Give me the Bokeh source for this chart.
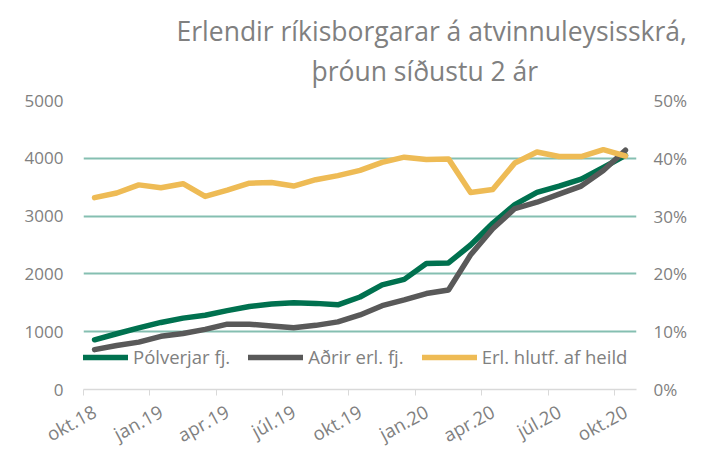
from bokeh.plotting import figure
from bokeh.models import (Range1d, LinearAxis, FixedTicker, NumeralTickFormatter,
                          Legend, LegendItem, Title)
from bokeh.embed import file_html
from bokeh.resources import INLINE

months = ["okt.18", "nóv.18", "des.18", "jan.19", "feb.19", "mar.19", "apr.19", "maí.19",
          "jún.19", "júl.19", "ágú.19", "sep.19", "okt.19", "nóv.19", "des.19", "jan.20",
          "feb.20", "mar.20", "apr.20", "maí.20", "jún.20", "júl.20", "ágú.20", "sep.20", "okt.20"]
polverjar = [860, 965, 1065, 1160, 1235, 1285, 1365, 1435, 1480, 1500, 1490, 1465, 1600,
             1810, 1905, 2180, 2190, 2500, 2875, 3200, 3410, 3520, 3640, 3840, 4050]
adrir = [690, 760, 820, 920, 970, 1040, 1130, 1130, 1100, 1070, 1110, 1170, 1290,
         1450, 1550, 1660, 1720, 2330, 2780, 3130, 3240, 3380, 3520, 3790, 4140]
hlutf = [0.332, 0.340, 0.354, 0.349, 0.356, 0.334, 0.345, 0.357, 0.358, 0.352, 0.363, 0.370,
         0.379, 0.393, 0.402, 0.398, 0.399, 0.341, 0.346, 0.392, 0.411, 0.403, 0.403, 0.415, 0.404]
left_ticks = [0, 1000, 2000, 3000, 4000, 5000]
right_ticks = [0.0, 0.1, 0.2, 0.3, 0.4, 0.5]

title_line1 = "Erlendir ríkisborgarar á atvinnuleysisskrá,"
title_line2 = "þróun síðustu 2 ár"

FONT = "Open Sans"
TXT = "#808080"
GREEN = "#00714f"
GRAY = "#595959"
YELLOW = "#eebb55"
GRID = "#85bfb1"

x = list(range(len(months)))

p = figure(frame_width=553, frame_height=289, output_backend="svg", toolbar_location=None,
           x_range=Range1d(-0.5, len(months) - 0.5), y_range=Range1d(0, 5000),
           min_border_left=83, min_border_right=60, min_border_top=100, min_border_bottom=40,
           title=None)
p.outline_line_color = None
p.background_fill_color = "white"
p.border_fill_color = "white"
p.extra_y_ranges = {"pct": Range1d(0, 0.5)}

# title lines (closest to the frame added first)
t2 = Title(text=title_line2, align="left", offset=228, text_font=FONT,
           text_font_size="26.5px", text_font_style="normal", text_color=TXT, standoff=24)
t1 = Title(text=title_line1, align="left", offset=93, text_font=FONT,
           text_font_size="26.5px", text_font_style="normal", text_color=TXT, standoff=-20)
p.add_layout(t2, "above")
p.add_layout(t1, "above")

# x axis
label_idx = list(range(0, len(months), 3))
xa = p.xaxis[0]
xa.ticker = FixedTicker(ticks=label_idx, minor_ticks=[i - 0.5 for i in label_idx])
xa.major_label_overrides = {i: months[i] for i in label_idx}
xa.major_tick_line_color = None
xa.major_tick_out = 0
xa.major_tick_in = 0
xa.minor_tick_line_color = "#d9d9d9"
xa.minor_tick_out = 6
xa.minor_tick_in = 0
xa.axis_line_color = "#d9d9d9"
xa.axis_line_width = 1.5
xa.major_label_orientation = 0.5
xa.major_label_text_font = FONT
xa.major_label_text_font_size = "18.5px"
xa.major_label_text_color = TXT
xa.major_label_standoff = 14

# left axis
ya = p.yaxis[0]
ya.ticker = FixedTicker(ticks=left_ticks)
ya.axis_line_color = None
ya.major_tick_line_color = None
ya.major_tick_out = 0
ya.major_tick_in = 0
ya.minor_tick_line_color = None
ya.major_label_text_font = FONT
ya.major_label_text_font_size = "17px"
ya.major_label_text_color = TXT
ya.major_label_standoff = 20

# right axis
ra = LinearAxis(y_range_name="pct", ticker=FixedTicker(ticks=right_ticks),
                formatter=NumeralTickFormatter(format="0%"))
ra.axis_line_color = None
ra.major_tick_line_color = None
ra.major_tick_out = 0
ra.major_tick_in = 0
ra.minor_tick_line_color = None
ra.major_label_text_font = FONT
ra.major_label_text_font_size = "17px"
ra.major_label_text_color = TXT
ra.major_label_standoff = 17
p.add_layout(ra, "right")

p.xgrid.grid_line_color = None
p.ygrid.ticker = FixedTicker(ticks=left_ticks[1:])
p.ygrid.grid_line_color = GRID
p.ygrid.grid_line_width = 2

r1 = p.line(x, polverjar, line_color=GREEN, line_width=5.5, line_join="round", line_cap="round")
r2 = p.line(x, adrir, line_color=GRAY, line_width=5.5, line_join="round", line_cap="round")
r3 = p.line(x, hlutf, y_range_name="pct", line_color=YELLOW, line_width=5.5,
            line_join="round", line_cap="round")

legend = Legend(items=[LegendItem(label="Pólverjar fj.", renderers=[r1]),
                       LegendItem(label="Aðrir erl. fj.", renderers=[r2]),
                       LegendItem(label="Erl. hlutf. af heild", renderers=[r3])],
                orientation="horizontal", location=(-10, 20))
legend.background_fill_alpha = 0
legend.border_line_color = None
legend.padding = 0
legend.margin = 0
legend.spacing = 18
legend.glyph_width = 55
legend.glyph_height = 20
legend.label_standoff = 5
legend.label_text_font = FONT
legend.label_text_font_size = "18.5px"
legend.label_text_color = TXT
p.add_layout(legend, "center")

open("out.html", "w").write(file_html(p, INLINE))
